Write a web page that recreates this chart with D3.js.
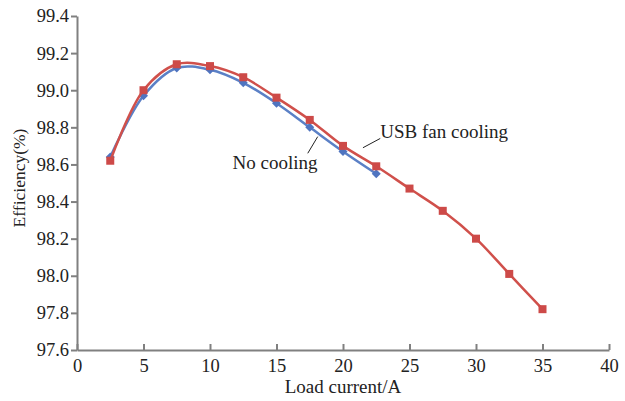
<!DOCTYPE html>
<meta charset="utf-8" />
<style>
  body { margin: 0; background: #fff; }
  .axis path, .axis line { stroke: #808080; stroke-width: 2; fill: none; }
  .axis text { font-family: "Liberation Serif", "Times New Roman", serif; font-size: 18.5px; fill: #222; }
</style>
<body>
<script src="https://d3js.org/d3.v7.min.js"></script>
<script>
// data
var current = [2.5, 5, 7.5, 10, 12.5, 15, 17.5, 20, 22.5, 25, 27.5, 30, 32.5, 35];
var fanCooling = [98.62, 99.00, 99.14, 99.13, 99.07, 98.96, 98.84, 98.70, 98.59, 98.47, 98.35, 98.20, 98.01, 97.82];
var noCooling = [98.64, 98.97, 99.12, 99.11, 99.04, 98.93, 98.80, 98.67, 98.55];
var xTicks = [0, 5, 10, 15, 20, 25, 30, 35, 40];
var yTicks = [97.6, 97.8, 98.0, 98.2, 98.4, 98.6, 98.8, 99.0, 99.2, 99.4];

var serif = "Liberation Serif, Times New Roman, serif";

var margin = { top: 16, right: 16, bottom: 51, left: 77 },
  width = 625 - margin.left - margin.right,
  height = 401 - margin.top - margin.bottom;

var svg = d3.select("body").append("svg")
  .attr("width", 625).attr("height", 401)
  .append("g")
  .attr("transform", "translate(" + margin.left + "," + margin.top + ")");

var x = d3.scaleLinear().domain([0, 40]).range([0, width]);
var y = d3.scaleLinear().domain([97.6, 99.4]).range([height, 0]);

// axes
var xAxis = svg.append("g").attr("class", "axis")
  .attr("transform", "translate(0," + height + ")")
  .call(d3.axisBottom(x).tickValues(xTicks).tickSizeInner(-6).tickSizeOuter(0).tickPadding(9));
xAxis.attr("font-family", null).attr("font-size", null);

var yAxis = svg.append("g").attr("class", "axis")
  .call(d3.axisLeft(y).tickValues(yTicks).tickFormat(d3.format(".1f")).tickSizeInner(6).tickSizeOuter(0).tickPadding(2));
yAxis.attr("font-family", null).attr("font-size", null);

// axis titles
svg.append("text")
  .attr("x", width / 2).attr("y", height + 43)
  .attr("text-anchor", "middle")
  .style("font-family", serif).style("font-size", "19px").attr("fill", "#222")
  .text("Load current/A");

svg.append("text")
  .attr("transform", "translate(" + (25 - margin.left) + "," + (178 - margin.top) + ") rotate(-90)")
  .attr("text-anchor", "middle")
  .style("font-family", serif).style("font-size", "17.5px").attr("fill", "#222")
  .text("Efficiency(%)");

var line = d3.line()
  .x(function (d) { return x(d[0]); })
  .y(function (d) { return y(d[1]); })
  .curve(d3.curveCatmullRom.alpha(0.5));

var blueData = noCooling.map(function (v, i) { return [current[i], v]; });
var redData = fanCooling.map(function (v, i) { return [current[i], v]; });

svg.append("path").attr("d", line(blueData))
  .attr("fill", "none").attr("stroke", "#5b80c6").attr("stroke-width", 2.5);

svg.selectAll(".dia").data(blueData).enter().append("path")
  .attr("class", "dia")
  .attr("transform", function (d) { return "translate(" + x(d[0]) + "," + y(d[1]) + ") rotate(45)"; })
  .attr("d", "M-3.2,-3.2H3.2V3.2H-3.2Z")
  .attr("fill", "#4f74c0");

svg.append("path").attr("d", line(redData))
  .attr("fill", "none").attr("stroke", "#d0504b").attr("stroke-width", 2.5);

svg.selectAll(".sq").data(redData).enter().append("rect")
  .attr("class", "sq")
  .attr("x", function (d) { return x(d[0]) - 4; })
  .attr("y", function (d) { return y(d[1]) - 4; })
  .attr("width", 8).attr("height", 8)
  .attr("fill", "#cd4a48");

// annotations
svg.append("line")
  .attr("x1", x(18.1)).attr("y1", y(98.75))
  .attr("x2", x(17.35)).attr("y2", y(98.66))
  .attr("stroke", "#222").attr("stroke-width", 1);
svg.append("text")
  .attr("x", x(11.7)).attr("y", y(98.575))
  .style("font-family", serif).style("font-size", "19px").attr("fill", "#222")
  .text("No cooling");

svg.append("line")
  .attr("x1", x(21.5)).attr("y1", y(98.69))
  .attr("x2", x(22.8)).attr("y2", y(98.74))
  .attr("stroke", "#222").attr("stroke-width", 1);
svg.append("text")
  .attr("x", x(22.8)).attr("y", y(98.745))
  .style("font-family", serif).style("font-size", "19px").attr("fill", "#222")
  .text("USB fan cooling");
</script>
</body>
